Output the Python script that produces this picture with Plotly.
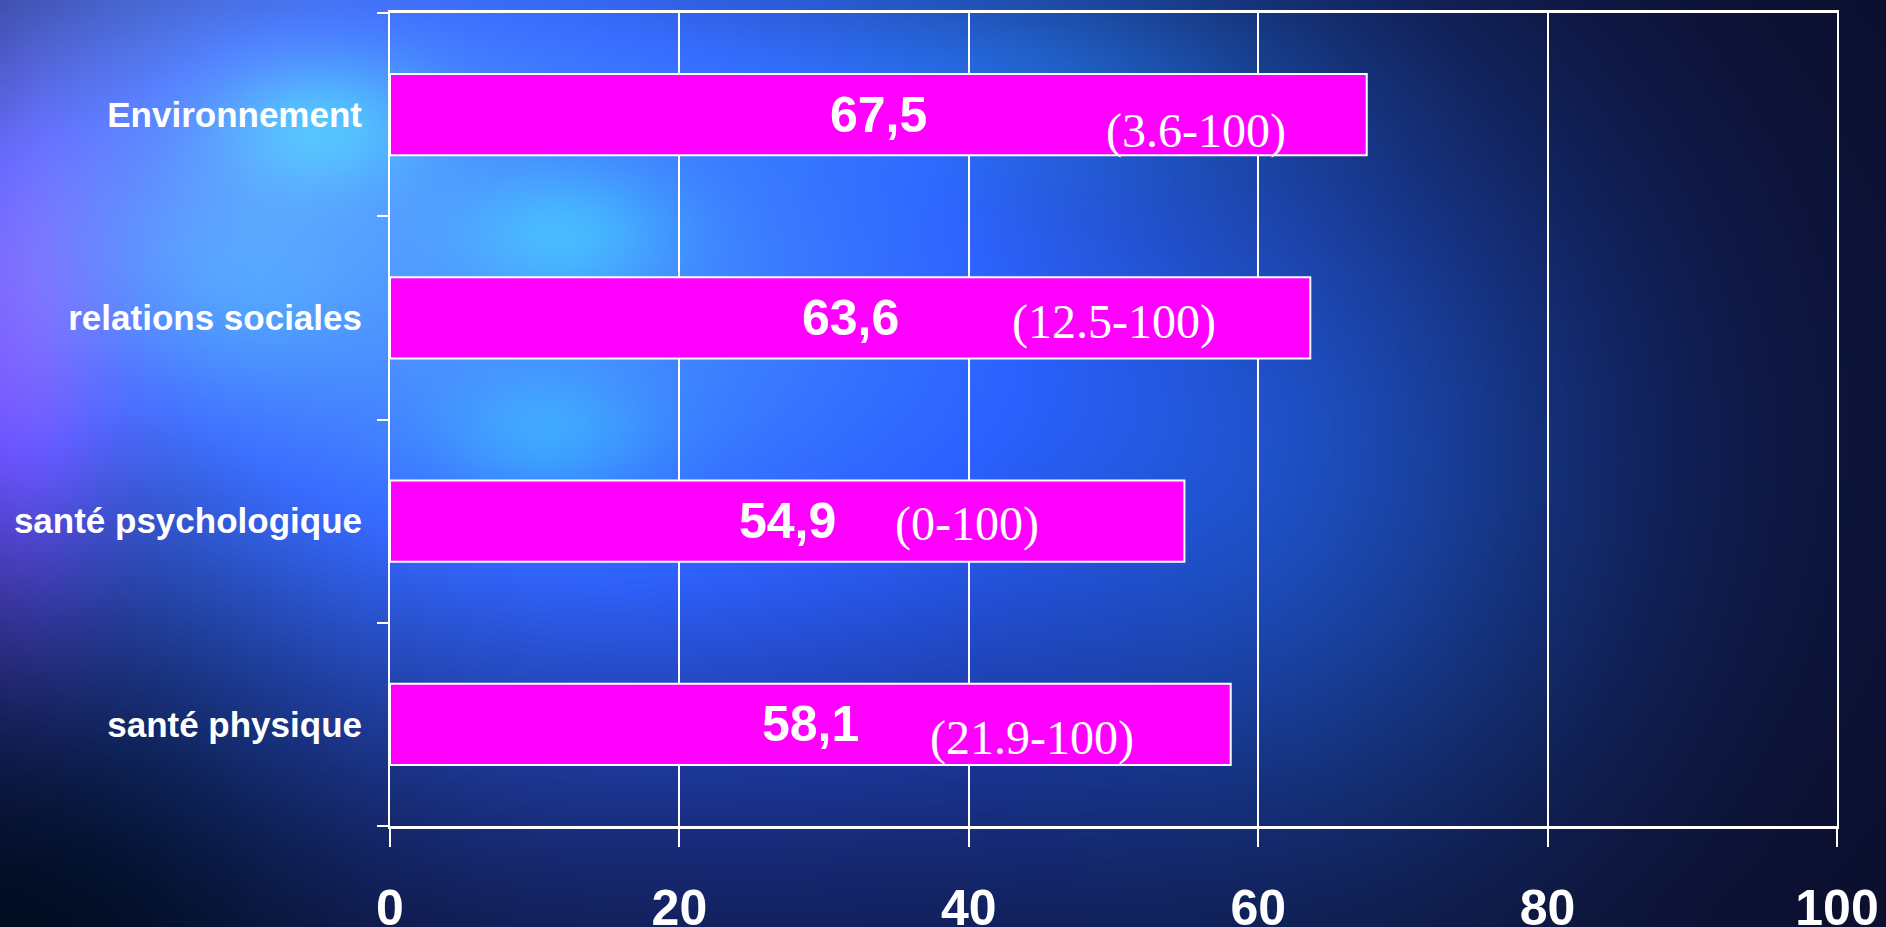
import base64
import struct
import zlib

import numpy as np
import plotly.graph_objects as go

# ---------------- data ----------------
categories = ["santé physique", "santé psychologique", "relations sociales", "Environnement"]
scores = [58.1, 54.9, 63.6, 67.5]
score_labels = ["58,1", "54,9", "63,6", "67,5"]
range_labels = ["(21.9-100)", "(0-100)", "(12.5-100)", "(3.6-100)"]
x_ticks = [0, 20, 40, 60, 80, 100]

# ---------------- layout constants (positions / styles) ----------------
W, H = 1886, 927
M_L, M_R, M_T, M_B = 390, 49, 13, 101
range_label_x = [44.4, 39.9, 50.0, 55.7]      # centre of range text, in axis units
range_label_dy = [-14, -3, -4, -16]           # pixel shift (negative = down)
MAGENTA = "#FF00FF"


# ---------------- background image (soft blue glow) ----------------
def make_background(w=236, h=116):
    u = np.linspace(0, 1, w)[None, :]
    v = np.linspace(0, 1, h)[:, None]
    img = np.zeros((h, w, 3), dtype=float)
    img[:] = np.array([12, 14, 42], dtype=float)

    def blob(cu, cv, su, sv, col):
        g = np.exp(-(((u - cu) / su) ** 2 + ((v - cv) / sv) ** 2) / 2)
        return g[..., None] * np.array(col, dtype=float)[None, None, :]

    img += blob(0.22, 0.25, 0.22, 0.34, (50, 100, 205))
    img += blob(0.45, 0.45, 0.25, 0.35, (15, 45, 140))
    img += blob(0.08, 0.15, 0.10, 0.20, (35, 30, 30))
    img += blob(0.00, 0.40, 0.04, 0.20, (70, 10, 90))
    img += blob(0.17, 0.13, 0.04, 0.05, (0, 55, 25))
    img += blob(0.30, 0.25, 0.04, 0.05, (0, 45, 20))
    img += blob(0.29, 0.47, 0.04, 0.05, (0, 40, 20))
    img += blob(0.12, 0.30, 0.05, 0.08, (0, 25, 15))
    img += blob(0.55, 0.08, 0.10, 0.08, (0, 30, 30))
    img += blob(0.70, 0.55, 0.12, 0.30, (5, 30, 50))
    img += blob(0.02, 0.95, 0.10, 0.20, (-15, -10, -30))
    img = np.clip(img, 0, 255).astype(np.uint8)
    return img


def png_uri(arr):
    h, w, _ = arr.shape
    raw = b"".join(b"\x00" + arr[i].tobytes() for i in range(h))

    def chunk(tag, data):
        c = struct.pack(">I", len(data)) + tag + data
        return c + struct.pack(">I", zlib.crc32(tag + data) & 0xFFFFFFFF)

    png = b"\x89PNG\r\n\x1a\n"
    png += chunk(b"IHDR", struct.pack(">IIBBBBB", w, h, 8, 2, 0, 0, 0))
    png += chunk(b"IDAT", zlib.compress(raw, 9))
    png += chunk(b"IEND", b"")
    return "data:image/png;base64," + base64.b64encode(png).decode()


bg_uri = png_uri(make_background())

# ---------------- figure ----------------
fig = go.Figure()
fig.add_trace(
    go.Bar(
        y=categories,
        x=scores,
        orientation="h",
        width=0.4,
        marker=dict(color=MAGENTA, line=dict(color="white", width=2)),
        hoverinfo="skip",
    )
)

annotations = []
for cat, val, lab in zip(categories, scores, score_labels):
    annotations.append(
        dict(
            x=val / 2, y=cat, xref="x", yref="y", text=lab, showarrow=False,
            font=dict(family="Liberation Sans, Arial", size=50, color="white", weight="bold"),
            xanchor="center", yanchor="middle",
        )
    )
for cat, rx, dy, lab in zip(categories, range_label_x, range_label_dy, range_labels):
    annotations.append(
        dict(
            x=rx, y=cat, xref="x", yref="y", text=lab, showarrow=False, yshift=dy,
            font=dict(family="Liberation Serif, Times New Roman", size=48, color="white"),
            xanchor="center", yanchor="middle",
        )
    )

pw = W - M_L - M_R
ph = H - M_T - M_B
fig.add_layout_image(
    dict(
        source=bg_uri, xref="paper", yref="paper",
        x=-M_L / pw, y=1 + M_T / ph, sizex=W / pw, sizey=H / ph,
        xanchor="left", yanchor="top", sizing="stretch", layer="below",
    )
)

fig.update_layout(
    width=W, height=H,
    margin=dict(l=M_L, r=M_R, t=M_T, b=M_B, autoexpand=False),
    paper_bgcolor="#101540",
    plot_bgcolor="rgba(0,0,0,0)",
    showlegend=False,
    annotations=annotations,
    xaxis=dict(
        range=[0, 100], tickvals=x_ticks, ticktext=[str(t) for t in x_ticks],
        showgrid=True, gridcolor="white", gridwidth=1.5,
        showline=True, linecolor="white", linewidth=3, mirror=True,
        ticks="outside", ticklen=18, tickwidth=1.5, tickcolor="white",
        tickfont=dict(family="Liberation Sans, Arial", size=50, color="white", weight="bold"),
        ticklabelstandoff=18, zeroline=False, fixedrange=True, automargin=False,
    ),
    yaxis=dict(
        type="category", categoryorder="array", categoryarray=categories,
        range=[-0.5, len(categories) - 0.5],
        showgrid=False, showline=True, linecolor="white", linewidth=2, mirror=True,
        ticks="outside", tickson="boundaries", ticklen=11, tickwidth=2, tickcolor="white",
        tickfont=dict(family="Liberation Sans, Arial", size=35, color="white", weight="bold"),
        ticklabelstandoff=19, zeroline=False, fixedrange=True, automargin=False,
    ),
)

fig.write_html("out.html", config={"displayModeBar": False})
